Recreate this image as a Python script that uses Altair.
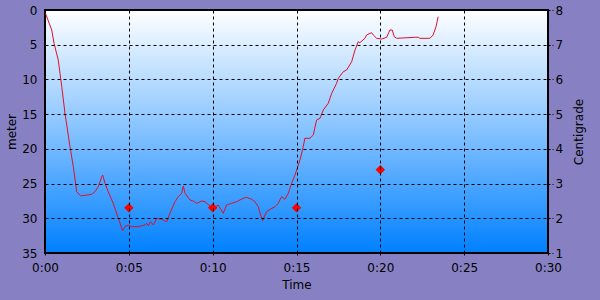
import altair as alt
import pandas as pd

# Depth profile (minutes, meters)
time_min = [0.00, 0.40, 0.54, 0.79, 1.00, 1.19, 1.49, 1.69, 1.89, 2.13, 2.49, 2.78, 2.98, 3.18,
            3.38, 3.44, 3.58, 3.77, 4.07, 4.37, 4.63, 4.77, 4.97, 5.17, 5.56, 5.96, 6.06, 6.16,
            6.30, 6.46, 6.66, 6.96, 7.26, 7.45, 7.75, 7.95, 8.15, 8.25, 8.35, 8.65, 8.84, 9.05,
            9.34, 9.54, 9.84, 10.04, 10.33, 10.63, 10.83, 11.13, 11.43, 11.82, 12.03, 12.33,
            12.52, 12.72, 12.86, 12.98, 13.12, 13.22, 13.42, 13.72, 13.91, 14.11, 14.31, 14.51,
            14.71, 14.91, 15.21, 15.40, 15.50, 15.80, 16.00, 16.20, 16.40, 16.60, 16.89, 17.10,
            17.39, 17.49, 17.79, 17.99, 18.29, 18.49, 18.68, 18.78, 19.08, 19.18, 19.48, 19.58,
            19.78, 20.08, 20.38, 20.57, 20.71, 20.83, 20.97, 22.06, 22.26, 22.36, 22.96, 23.15,
            23.32, 23.45]
depth_m = [0.3, 2.88, 4.80, 7.20, 11.05, 14.84, 19.69, 22.57, 26.17, 26.79, 26.65, 26.55, 26.17, 25.45,
           24.01, 23.77, 24.96, 26.17, 27.84, 30.00, 31.79, 31.21, 30.97, 31.21, 31.21, 30.97, 30.72, 31.07,
           30.49, 30.97, 30.00, 30.15, 30.49, 29.28, 27.61, 26.89, 26.40, 25.35, 26.40, 27.37, 27.51, 27.84,
           27.51, 27.61, 28.23, 28.56, 28.09, 29.28, 28.09, 27.84, 27.61, 27.12, 26.98, 27.26,
           27.61, 28.33, 29.53, 30.35, 29.53, 29.05, 28.71, 28.33, 27.84, 26.89, 27.26, 26.40,
           24.96, 23.77, 21.60, 19.69, 18.48, 18.48, 18.00, 15.84, 15.60, 14.40, 13.44, 12.00,
           10.56, 9.84, 8.89, 8.64, 7.45, 5.76, 4.57, 4.71, 4.08, 3.60, 3.27, 3.60,
           4.08, 4.18, 3.93, 2.88, 2.88, 3.85, 4.08, 3.93, 3.93, 4.08, 4.08, 3.60,
           2.41, 0.97]

# Temperature readings
temp_time = [5, 10, 15, 20]
temp_c = [2.3, 2.3, 2.3, 3.4]

time_ticks = [0, 5, 10, 15, 20, 25, 30]
depth_ticks = [0, 5, 10, 15, 20, 25, 30, 35]
temp_ticks = [1, 2, 3, 4, 5, 6, 7, 8]

W, H = 503, 243

depth_df = pd.DataFrame({"t": time_min, "depth": depth_m})
temp_df = pd.DataFrame({"t": temp_time, "temp": temp_c})

x_scale = alt.Scale(domain=[0, 30], nice=False, zero=False)
x_axis = alt.Axis(
    values=time_ticks,
    labelExpr="'0:' + (datum.value < 10 ? '0' : '') + datum.value",
    title="Time", grid=True, gridDash=[3, 3], gridColor="black", gridOpacity=1,
    domain=False, tickSize=4, tickColor="black", tickDash=[2, 2], labelPadding=5,
    labelFlush=False, labelOverlap=False,
    titleX=W / 2, titleY=31, titleBaseline="middle", titleAlign="center", zindex=1,
)

bg = alt.Chart(pd.DataFrame({"a": [0]})).mark_rect(
    fill=alt.LinearGradient(
        gradient="linear",
        stops=[alt.GradientStop(color="#FFFFFF", offset=0),
               alt.GradientStop(color="#84C2FF", offset=0.5),
               alt.GradientStop(color="#0080FF", offset=1)],
        x1=0, x2=0, y1=0, y2=1,
    ),
    stroke="black", strokeWidth=2,
).encode(x=alt.value(0), x2=alt.value(W), y=alt.value(0), y2=alt.value(H))

line = alt.Chart(depth_df).mark_line(color="#E0102A", strokeWidth=1).encode(
    x=alt.X("t:Q", scale=x_scale, axis=x_axis),
    y=alt.Y("depth:Q", scale=alt.Scale(domain=[0, 35], reverse=True, nice=False, zero=False),
            axis=alt.Axis(orient="left", values=depth_ticks, grid=True, gridDash=[3, 3],
                          gridColor="black", gridOpacity=1, domain=False, tickSize=0,
                          labelPadding=8, labelFlush=False, title="meter", titleAngle=270,
                          titleX=-34, titleY=H / 2, titleBaseline="middle",
                          titleAlign="center", zindex=1)),
)

points = alt.Chart(temp_df).mark_point(shape="diamond", filled=True, color="#FF0000",
                                       size=90, opacity=1).encode(
    x=alt.X("t:Q", scale=x_scale, axis=x_axis),
    y=alt.Y("temp:Q", scale=alt.Scale(domain=[1, 8], nice=False, zero=False),
            axis=alt.Axis(orient="right", values=temp_ticks, grid=False, domain=False,
                          tickSize=5, tickColor="black", tickDash=[2, 2], labelPadding=2,
                          labelFlush=False, title="Centigrade", titleAngle=270, titleX=30,
                          titleY=H / 2, titleBaseline="middle", titleAlign="center", zindex=1)),
)

chart = alt.layer(bg, line, points).resolve_scale(y="independent").properties(
    width=W, height=H,
    padding={"left": 45, "top": 10, "right": 52, "bottom": 47},
    autosize=alt.AutoSizeParams(type="none"),
    background="#8781C3",
).configure_view(stroke="transparent").configure_axis(
    labelFont="DejaVu Sans", labelFontSize=12, labelColor="black",
    titleFont="DejaVu Sans", titleFontSize=12, titleFontWeight="normal", titleColor="black",
)

chart.save("out.html", embed_options={"renderer": "svg", "actions": False})
